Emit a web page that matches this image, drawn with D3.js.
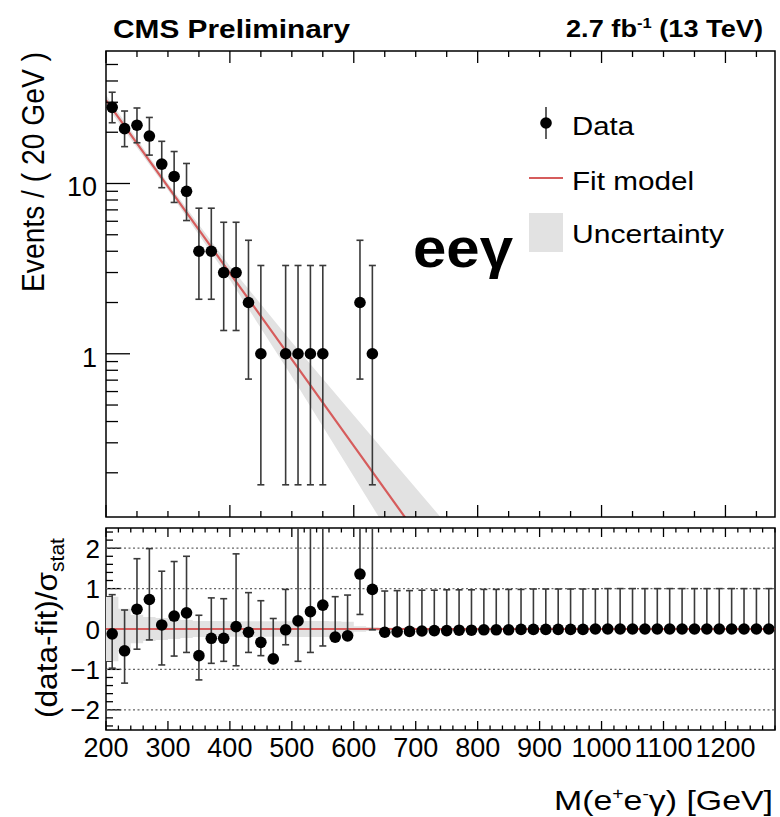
<!DOCTYPE html>
<html>
<head>
<meta charset="utf-8">
<script src="https://cdn.jsdelivr.net/npm/d3@7"></script>
<style>
  html, body { margin: 0; padding: 0; background: #fff; }
  svg { display: block; }
  text { font-family: "Liberation Sans", Arial, Helvetica, sans-serif; fill: #000; }
</style>
</head>
<body>
<svg id="chart" width="780" height="817"></svg>
<script>
// ---------------- data ----------------
const binMass = [210,230,250,270,290,310,330,350,370,390,410,430,450,470,490,510,530,550,570,590,610,630,
  650,670,690,710,730,750,770,790,810,830,850,870,890,910,930,950,970,990,1010,1030,1050,1070,1090,1110,1130,1150,1170,1190,1210,1230,1250,1270];
const counts = [28,21,22,19,13,11,9,4,4,3,3,2,1,0,1,1,1,1,0,0,2,1,
  0,0,0,0,0,0,0,0,0,0,0,0,0,0,0,0,0,0,0,0,0,0,0,0,0,0,0,0,0,0,0,0];
const countLow  = [22.74,16.46,17.35,14.68,9.45,7.74,6.06,2.09,2.09,1.37,1.37,0.71,0.17,0,0.17,0.17,0.17,0.17,0,0,0.71,0.17];
const countHigh = [34.35,26.65,27.76,24.43,17.69,15.41,13.11,7.16,7.16,5.92,5.92,4.64,3.30,1.84,3.30,3.30,3.30,3.30,1.84,1.84,4.64,3.30];

const fitMass   = [200, 300, 400, 500, 600, 700, 800];
const fitEvents = [30.9, 9.6, 2.98, 0.927, 0.288, 0.0895, 0.0278];
const fitUp     = [33.1, 10.05, 3.27, 1.167, 0.436, 0.163, 0.0608];
const fitDown   = [28.8, 9.17, 2.72, 0.736, 0.190, 0.0492, 0.0127];

const pull = [-0.12,-0.54,0.49,0.73,0.10,0.32,0.40,-0.66,-0.23,-0.23,0.06,-0.08,-0.33,-0.74,-0.02,0.20,0.43,0.59,-0.20,-0.17,1.36,0.98,
  -0.08,-0.07,-0.06,-0.05,-0.04,-0.04,-0.03,-0.03,-0.02,-0.02,-0.02,-0.01,-0.01,-0.01,-0.01,-0.01,-0.01,0,0,0,0,0,0,0,0,0,0,0,0,0,0,0];
const pullHi = [0.85,0.47,1.74,1.99,1.43,1.67,1.80,0.34,0.77,0.75,1.86,0.90,0.70,0.26,0.98,3.0,3.2,3.4,0.80,0.84,3.5,3.3,
  0.94,0.95,0.95,0.96,0.96,0.97,0.97,0.97,0.98,0.98,0.98,0.98,0.99,0.99,0.99,0.99,0.99,0.99,1.0,1.0,1.0,1.0,1.0,1.0,1.0,1.0,1.0,1.0,1.0,1.0,1.0,1.0];
const pullLo = [-0.97,-1.34,-0.50,-0.27,-0.89,-0.67,-0.58,-1.26,-0.85,-0.80,-0.91,-0.58,-0.66,-0.74,-0.39,-0.80,-0.58,-0.42,-0.20,-0.17,0.36,-0.02];

const pullBandEdges = [200,220,240,260,280,300,320,340,360,380,400,420,440,460,480,500,520,540,560,580,600,620,640,660,680,700];
const pullBandHalf  = [0.80,0.50,0.35,0.30,0.27,0.25,0.22,0.20,0.20,0.20,0.19,0.19,0.19,0.19,0.19,0.20,0.20,0.20,0.19,0.18,0.07,0.05,0.04,0.03,0.02];

const xMajorUpper = [200,400,600,800,1000,1200];
const xLabels = [200,300,400,500,600,700,800,900,1000,1100,1200];
const yLogMajor = [1,10];
const yLogMinor = [0.2,0.3,0.4,0.5,0.6,0.7,0.8,0.9,2,3,4,5,6,7,8,9,20,30,40,50];
const yPullLabels = [2,1,0,-1,-2];
const yPullGrid = [2,1,-1,-2];

// ---------------- layout ----------------
const svg = d3.select("#chart");
const L = 106, R = 775;
const upTop = 51, upBot = 517;
const loTop = 528, loBot = 730;

const x = d3.scaleLinear().domain([200,1280]).range([L,R]);
const yUp = d3.scaleLog().domain([0.11,60]).range([upBot,upTop]);
const yLo = d3.scaleLinear().domain([-2.5,2.5]).range([loBot,loTop]);

const defs = svg.append("defs");
defs.append("clipPath").attr("id","clipUp").append("rect")
  .attr("x",L).attr("y",upTop).attr("width",R-L).attr("height",upBot-upTop);
defs.append("clipPath").attr("id","clipLo").append("rect")
  .attr("x",L).attr("y",loTop).attr("width",R-L).attr("height",loBot-loTop);

const RED = "#d65c5c";
const BAND = "#e2e2e2";
const ERR = "#3a3a3a";

// ---------- upper panel ----------
const gUp = svg.append("g").attr("clip-path","url(#clipUp)");
const fitPts = fitMass.map((m,i)=>({m, v:fitEvents[i], u:fitUp[i], d:fitDown[i]}));
gUp.append("path").datum(fitPts)
  .attr("d", d3.area().x(d=>x(d.m)).y0(d=>yUp(d.d)).y1(d=>yUp(d.u)))
  .attr("fill", BAND);
gUp.append("path").datum(fitPts)
  .attr("d", d3.line().x(d=>x(d.m)).y(d=>yUp(d.v)))
  .attr("fill","none").attr("stroke",RED).attr("stroke-width",2.2);

const upData = countLow.map((lo,i)=>({m:binMass[i], n:counts[i], lo, hi:countHigh[i]})).filter(d=>d.n>0);
const eb = gUp.append("g").attr("stroke",ERR).attr("stroke-width",1.6);
upData.forEach(d=>{
  const y1 = yUp(d.hi), y0 = yUp(d.lo);
  eb.append("line").attr("x1",x(d.m)).attr("x2",x(d.m)).attr("y1",y1).attr("y2",y0);
  eb.append("line").attr("x1",x(d.m)-3.5).attr("x2",x(d.m)+3.5).attr("y1",y1).attr("y2",y1);
  eb.append("line").attr("x1",x(d.m)-3.5).attr("x2",x(d.m)+3.5).attr("y1",y0).attr("y2",y0);
});
gUp.append("g").selectAll("circle").data(upData).join("circle")
  .attr("cx",d=>x(d.m)).attr("cy",d=>yUp(d.n)).attr("r",5.8).attr("fill","#000");

// upper frame & ticks
const fr = svg.append("g").attr("stroke","#000").attr("stroke-width",1.5).attr("fill","none");
fr.append("rect").attr("x",L).attr("y",upTop).attr("width",R-L).attr("height",upBot-upTop);
const tk = svg.append("g").attr("stroke","#000").attr("stroke-width",1.3);
d3.range(200,1281,50).forEach(m=>{
  const len = xMajorUpper.includes(m) ? 12 : 6;
  tk.append("line").attr("x1",x(m)).attr("x2",x(m)).attr("y1",upBot).attr("y2",upBot-len);
  tk.append("line").attr("x1",x(m)).attr("x2",x(m)).attr("y1",upTop).attr("y2",upTop+len);
});
yLogMajor.forEach(v=>{
  tk.append("line").attr("x1",L).attr("x2",L+24).attr("y1",yUp(v)).attr("y2",yUp(v));
});
yLogMinor.forEach(v=>{
  tk.append("line").attr("x1",L).attr("x2",L+12).attr("y1",yUp(v)).attr("y2",yUp(v));
});
svg.append("g").selectAll("text").data(yLogMajor).join("text")
  .attr("x",97).attr("y",d=>yUp(d)+13).attr("text-anchor","end")
  .attr("font-size",27).text(d=>d);

// ---------- lower panel ----------
const gLo = svg.append("g").attr("clip-path","url(#clipLo)");
const bandPts = [];
pullBandHalf.forEach((h,i)=>{
  bandPts.push({m:pullBandEdges[i], h});
  bandPts.push({m:pullBandEdges[i+1], h});
});
gLo.append("path").datum(bandPts)
  .attr("d", d3.area().x(d=>x(d.m)).y0(d=>yLo(-d.h)).y1(d=>yLo(d.h)))
  .attr("fill", BAND);
yPullGrid.forEach(v=>{
  gLo.append("line").attr("x1",L).attr("x2",R).attr("y1",yLo(v)).attr("y2",yLo(v))
    .attr("stroke","#666").attr("stroke-width",1.2).attr("stroke-dasharray","2,2.5");
});
gLo.append("line").attr("x1",L).attr("x2",R).attr("y1",yLo(0)).attr("y2",yLo(0))
  .attr("stroke",RED).attr("stroke-width",2.2);

const loData = binMass.map((m,i)=>({m, v:pull[i], hi:pullHi[i], lo: i<pullLo.length ? pullLo[i] : pull[i]}));
const eb2 = gLo.append("g").attr("stroke",ERR).attr("stroke-width",1.6);
loData.forEach(d=>{
  const y1 = yLo(d.hi), y0 = yLo(d.lo);
  eb2.append("line").attr("x1",x(d.m)).attr("x2",x(d.m)).attr("y1",y1).attr("y2",y0);
  eb2.append("line").attr("x1",x(d.m)-3.5).attr("x2",x(d.m)+3.5).attr("y1",y1).attr("y2",y1);
  if (d.lo < d.v - 0.01)
    eb2.append("line").attr("x1",x(d.m)-3.5).attr("x2",x(d.m)+3.5).attr("y1",y0).attr("y2",y0);
});
gLo.append("g").selectAll("circle").data(loData).join("circle")
  .attr("cx",d=>x(d.m)).attr("cy",d=>yLo(d.v)).attr("r",5.8).attr("fill","#000");

fr.append("rect").attr("x",L).attr("y",loTop).attr("width",R-L).attr("height",loBot-loTop);
d3.range(200,1281,20).forEach(m=>{
  const len = (m % 100 === 0) ? 9 : 4.5;
  tk.append("line").attr("x1",x(m)).attr("x2",x(m)).attr("y1",loBot).attr("y2",loBot-len);
  tk.append("line").attr("x1",x(m)).attr("x2",x(m)).attr("y1",loTop).attr("y2",loTop+len);
});
d3.range(-24,25,2).map(v=>v/10).forEach(v=>{
  const major = Math.abs(v - Math.round(v)) < 1e-9;
  tk.append("line").attr("x1",L).attr("x2",L+(major?15:7)).attr("y1",yLo(v)).attr("y2",yLo(v));
});
svg.append("g").selectAll("text").data(yPullLabels).join("text")
  .attr("x",100).attr("y",d=>yLo(d)+9.5).attr("text-anchor","end")
  .attr("font-size",26).text(d=>d<0 ? "\u2212"+Math.abs(d) : d);

svg.append("g").selectAll("text").data(xLabels).join("text")
  .attr("x",d=>x(d)).attr("y",757).attr("text-anchor","middle")
  .attr("font-size",27).text(d=>d);

// ---------- titles ----------
svg.append("text").attr("x",113).attr("y",38).attr("font-size",25).attr("font-weight","bold")
  .attr("textLength",237).attr("lengthAdjust","spacingAndGlyphs").text("CMS Preliminary");

const lumi = svg.append("text").attr("x",566).attr("y",37).attr("font-size",23).attr("font-weight","bold")
  .attr("textLength",197).attr("lengthAdjust","spacingAndGlyphs");
lumi.append("tspan").text("2.7 fb");
lumi.append("tspan").attr("font-size",14).attr("dy",-9).text("-1");
lumi.append("tspan").attr("dy",9).text(" (13 TeV)");

svg.append("text").attr("transform","translate(44,292) rotate(-90)")
  .attr("font-size",31).attr("textLength",240).attr("lengthAdjust","spacingAndGlyphs")
  .text("Events / ( 20 GeV )");

const pl = svg.append("text").attr("transform","translate(57,718) rotate(-90)")
  .attr("font-size",30).attr("textLength",180).attr("lengthAdjust","spacingAndGlyphs");
pl.append("tspan").text("(data-fit)/\u03c3");
pl.append("tspan").attr("font-size",20).attr("dy",7).text("stat");

const xt = svg.append("text").attr("x",554).attr("y",810).attr("font-size",28)
  .attr("textLength",219).attr("lengthAdjust","spacingAndGlyphs");
xt.append("tspan").text("M(e");
xt.append("tspan").attr("font-size",16).attr("dy",-11).text("+");
xt.append("tspan").attr("dy",11).text("e");
xt.append("tspan").attr("font-size",16).attr("dy",-11).text("-");
xt.append("tspan").attr("dy",11).text("\u03b3) [GeV]");

svg.append("text").attr("x",413).attr("y",267).attr("font-size",56).attr("font-weight","bold")
  .attr("textLength",100).attr("lengthAdjust","spacingAndGlyphs").text("ee\u03b3");

// ---------- legend ----------
const lg = svg.append("g");
lg.append("line").attr("x1",546).attr("x2",546).attr("y1",107).attr("y2",139).attr("stroke",ERR).attr("stroke-width",1.6);
lg.append("circle").attr("cx",546).attr("cy",123).attr("r",5.8).attr("fill","#000");
lg.append("text").attr("x",572).attr("y",135).attr("font-size",26)
  .attr("textLength",62).attr("lengthAdjust","spacingAndGlyphs").text("Data");
lg.append("line").attr("x1",529).attr("x2",563).attr("y1",178).attr("y2",178).attr("stroke",RED).attr("stroke-width",2.2);
lg.append("text").attr("x",572).attr("y",190).attr("font-size",26)
  .attr("textLength",122).attr("lengthAdjust","spacingAndGlyphs").text("Fit model");
lg.append("rect").attr("x",529).attr("y",213).attr("width",34).attr("height",39).attr("fill",BAND);
lg.append("text").attr("x",572).attr("y",243).attr("font-size",26)
  .attr("textLength",152).attr("lengthAdjust","spacingAndGlyphs").text("Uncertainty");
</script>
</body>
</html>
